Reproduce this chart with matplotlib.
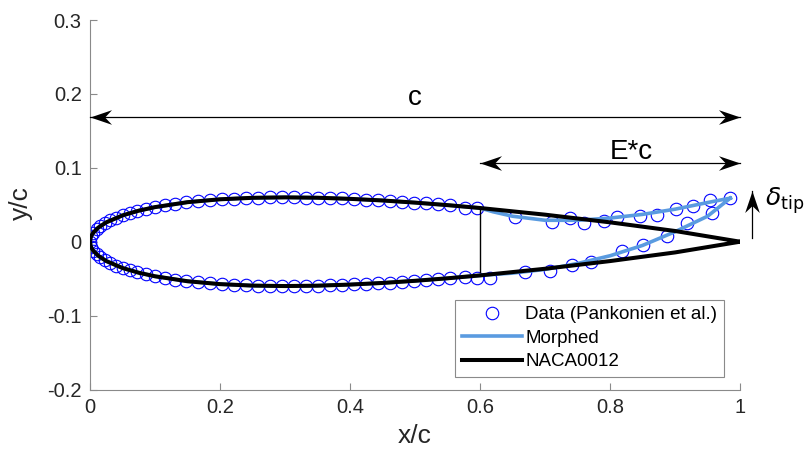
"""Morphed trailing edge vs NACA0012 section with measured data."""

import numpy as np
import matplotlib
matplotlib.use("Agg")
import matplotlib.pyplot as plt
from matplotlib.path import Path

# NACA0012 half-thickness stations
naca_x = [0.0, 0.001, 0.0025, 0.005, 0.0125, 0.025, 0.05, 0.075, 0.1, 0.15, 0.2, 0.25,
          0.3, 0.35, 0.4, 0.45, 0.5, 0.55, 0.6, 0.7, 0.8, 0.9, 1.0]
naca_t = [0.0, 0.0056, 0.0087, 0.0122, 0.0189, 0.0262, 0.0356, 0.0420, 0.0468, 0.0535,
          0.0574, 0.0594, 0.0600, 0.0595, 0.0580, 0.0558, 0.0529, 0.0495, 0.0456,
          0.0366, 0.0262, 0.0145, 0.0]

# morphed section aft of the hinge (x > 0.6)
morph_up_x = [0.62, 0.65, 0.70, 0.75, 0.80, 0.85, 0.90, 0.95, 0.985]
morph_up_y = [0.0405, 0.0345, 0.0290, 0.0290, 0.0320, 0.0370, 0.0440, 0.0530, 0.0590]
morph_lo_x = [0.65, 0.70, 0.75, 0.80, 0.85, 0.90, 0.95, 0.985]
morph_lo_y = [-0.0425, -0.0375, -0.0295, -0.0190, -0.0050, 0.0135, 0.0345, 0.0590]

# measured data (Pankonien et al.)
data_up_x = [0.000, 0.002, 0.005, 0.010, 0.016, 0.023, 0.031, 0.040, 0.050, 0.061, 0.073,
             0.086, 0.100, 0.115, 0.131, 0.148, 0.166, 0.184, 0.203, 0.221, 0.240, 0.258,
             0.277, 0.295, 0.314, 0.332, 0.351, 0.369, 0.388, 0.406, 0.425, 0.443, 0.462,
             0.480, 0.499, 0.517, 0.536, 0.554, 0.577, 0.595, 0.654, 0.710, 0.738, 0.760,
             0.790, 0.811, 0.846, 0.872, 0.902, 0.927, 0.954, 0.985]
data_up_y = [0.0, 0.0078, 0.0122, 0.0170, 0.0213, 0.0252, 0.0288, 0.0323, 0.0356, 0.0386,
             0.0416, 0.0443, 0.0468, 0.0492, 0.0513, 0.0533, 0.0550, 0.0564, 0.0576, 0.0584,
             0.0591, 0.0596, 0.0599, 0.0600, 0.0600, 0.0598, 0.0595, 0.0590, 0.0585, 0.0578,
             0.0570, 0.0562, 0.0552, 0.0542, 0.0530, 0.0518, 0.0505, 0.0492, 0.0460, 0.0455,
             0.0335, 0.0265, 0.0320, 0.0250, 0.0285, 0.0335, 0.0350, 0.0360, 0.0440, 0.0485,
             0.0562, 0.0588]
data_lo_x = [0.002, 0.005, 0.010, 0.016, 0.023, 0.031, 0.040, 0.050, 0.061, 0.073, 0.086,
             0.100, 0.115, 0.131, 0.148, 0.166, 0.184, 0.203, 0.221, 0.240, 0.258, 0.277,
             0.295, 0.314, 0.332, 0.351, 0.369, 0.388, 0.406, 0.425, 0.443, 0.462, 0.480,
             0.499, 0.517, 0.536, 0.554, 0.577, 0.595, 0.616, 0.669, 0.707, 0.741, 0.770,
             0.818, 0.851, 0.887, 0.919, 0.957]
data_lo_y = [-0.0078, -0.0122, -0.0170, -0.0213, -0.0252, -0.0288, -0.0323, -0.0356,
             -0.0386, -0.0416, -0.0443, -0.0468, -0.0492, -0.0513, -0.0533, -0.0550,
             -0.0564, -0.0576, -0.0584, -0.0591, -0.0596, -0.0599, -0.0600, -0.0600,
             -0.0598, -0.0595, -0.0590, -0.0585, -0.0578, -0.0570, -0.0562, -0.0552,
             -0.0542, -0.0530, -0.0518, -0.0505, -0.0492, -0.0475, -0.0485, -0.0485,
             -0.0410, -0.0395, -0.0310, -0.0270, -0.0124, -0.0043, 0.0080, 0.0250, 0.0390]

x_ticks = [0, 0.2, 0.4, 0.6, 0.8, 1]
y_ticks = [-0.2, -0.1, 0, 0.1, 0.2, 0.3]

hinge_x = 0.6
chord_arrow_y = 0.169
flap_arrow_y = 0.106
tip_arrow_x = 1.019
tip_arrow_y = [0.005, 0.068]

plt.rcParams['font.family'] = ['Liberation Sans', 'DejaVu Sans']
plt.rcParams['mathtext.fontset'] = 'dejavusans'

TICK_COL = '#262626'
AX_COL = '#8a8a8a'
BLUE = '#5a9be0'


def head_marker(angle):
    # MATLAB-like swept arrow head, tip at the origin, pointing along +x then rotated
    verts = np.array([[0, 0], [-1, 0.34], [-0.68, 0], [-1, -0.34], [0, 0]])
    c, s = np.cos(np.radians(angle)), np.sin(np.radians(angle))
    verts = verts @ np.array([[c, s], [-s, c]])
    codes = [Path.MOVETO, Path.LINETO, Path.LINETO, Path.LINETO, Path.CLOSEPOLY]
    return Path(verts, codes)


def draw_arrow(ax, xs, ys, heads):
    ax.plot(xs, ys, color='black', lw=0.9, clip_on=False, zorder=5)
    for px, py, ang in heads:
        ax.plot(px, py, marker=head_marker(ang), ms=31, color='black',
                mew=0, clip_on=False, zorder=6)


fig = plt.figure(figsize=(8.06, 4.62), dpi=100)
ax = fig.add_axes([0.1117, 0.1569, 0.8065, 0.7998])

nx = np.array(naca_x)
nt = np.array(naca_t)
hinge = nx <= hinge_x

# closed NACA0012 contour: TE -> upper -> LE -> lower -> TE
naca_cx = np.concatenate([nx[::-1], nx[1:]])
naca_cy = np.concatenate([nt[::-1], -nt[1:]])

# morphed contour: tip -> morphed upper -> NACA front -> morphed lower -> tip
fx, ft = nx[hinge], nt[hinge]
morph_cx = np.concatenate([morph_up_x[::-1], fx[::-1], fx[1:], morph_lo_x])
morph_cy = np.concatenate([morph_up_y[::-1], ft[::-1], -ft[1:], morph_lo_y])

ax.plot(data_up_x + data_lo_x, data_up_y + data_lo_y, 'o', ls='none', ms=9.0,
        mfc='none', mec='blue', mew=0.8, label='Data (Pankonien et al.)', zorder=2)
ax.plot(morph_cx, morph_cy, color=BLUE, lw=2.6, label='Morphed', zorder=3)
ax.plot(naca_cx, naca_cy, color='black', lw=2.9, label='NACA0012', zorder=4)

# hinge line
ax.plot([hinge_x, hinge_x], [-0.041, 0.046], color='black', lw=1.0, zorder=4)

# annotation arrows
draw_arrow(ax, [0, 1], [chord_arrow_y, chord_arrow_y],
           [(0, chord_arrow_y, 180), (1, chord_arrow_y, 0)])
draw_arrow(ax, [hinge_x, 1], [flap_arrow_y, flap_arrow_y],
           [(hinge_x, flap_arrow_y, 180), (1, flap_arrow_y, 0)])
draw_arrow(ax, [tip_arrow_x, tip_arrow_x], tip_arrow_y,
           [(tip_arrow_x, tip_arrow_y[1], 90)])

ax.text(0.5, 0.194, 'c', fontsize=20, ha='center', va='center')
ax.text(0.832, 0.122, 'E*c', fontsize=20, ha='center', va='center')
ax.text(1.038, 0.056, r'$\delta_{\mathrm{tip}}$', fontsize=18, ha='left',
        va='center', clip_on=False)

ax.set_xlim(0, 1)
ax.set_ylim(-0.2, 0.3)
ax.set_xticks(x_ticks)
ax.set_yticks(y_ticks)
ax.set_xticklabels(['0', '0.2', '0.4', '0.6', '0.8', '1'])
ax.set_yticklabels(['-0.2', '-0.1', '0', '0.1', '0.2', '0.3'])

for side in ['top', 'right']:
    ax.spines[side].set_visible(False)
for side in ['left', 'bottom']:
    ax.spines[side].set_color(AX_COL)
    ax.spines[side].set_linewidth(0.8)
ax.tick_params(direction='in', length=5, width=0.8, color=AX_COL,
               labelcolor=TICK_COL, labelsize=14.5, pad=6)

ax.set_xlabel('x/c', fontsize=19, color=TICK_COL)
ax.set_ylabel('y/c', fontsize=19, color=TICK_COL)
ax.xaxis.set_label_coords(0.5, -0.092)
ax.yaxis.set_label_coords(-0.088, 0.505)

leg = ax.legend(loc='lower right', bbox_to_anchor=(0.975, 0.034), borderaxespad=0,
                fontsize=13.5, handlelength=3.2, handletextpad=0.2, labelspacing=0.34,
                borderpad=0.35, fancybox=False, framealpha=1, edgecolor=AX_COL)
leg.get_frame().set_linewidth(0.8)

fig.savefig('out.png', dpi=100)
